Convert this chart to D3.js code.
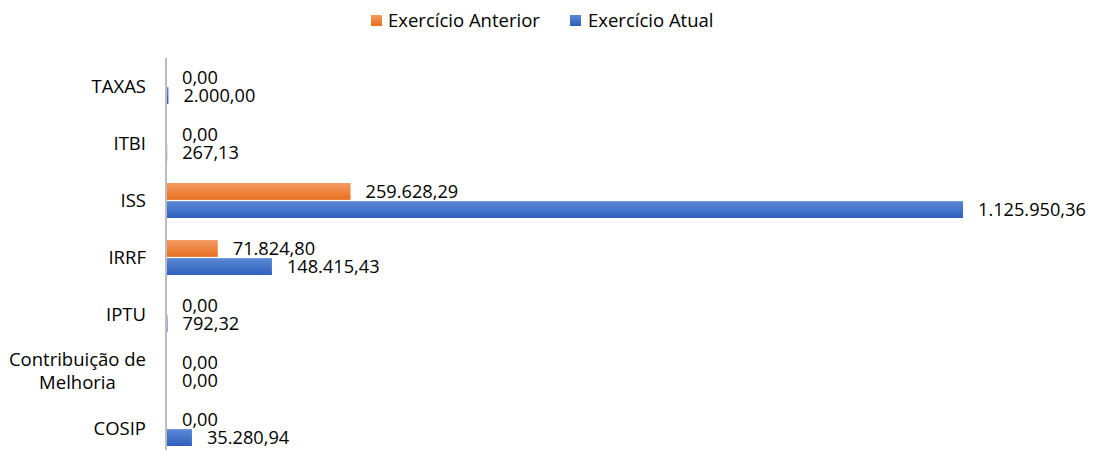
<!DOCTYPE html>
<html>
<head>
<meta charset="utf-8">
<script src="https://cdn.jsdelivr.net/npm/d3@7"></script>
<style>
  html, body { margin: 0; padding: 0; background: #fff; }
  svg { display: block; }
  text { font-family: "Open Sans", sans-serif; fill: #000; }
</style>
</head>
<body>
<svg id="chart" width="1094" height="450"></svg>
<script>
const categories = ["TAXAS", "ITBI", "ISS", "IRRF", "IPTU", "Contribuição de Melhoria", "COSIP"];
const categoryLines = [["TAXAS"], ["ITBI"], ["ISS"], ["IRRF"], ["IPTU"], ["Contribuição de", "Melhoria"], ["COSIP"]];
const seriesNames = ["Exercício Anterior", "Exercício Atual"];
const exercicioAnterior = [0, 0, 259628.29, 71824.80, 0, 0, 0];
const exercicioAtual = [2000.00, 267.13, 1125950.36, 148415.43, 792.32, 0, 35280.94];
const seriesColors = [["#F49D63", "#E86D1F"], ["#5B89D5", "#2F5FBE"]];

const svg = d3.select("#chart");
const locale = d3.formatLocale({decimal: ",", thousands: ".", grouping: [3], currency: ["R$ ", ""]});
const fmt = locale.format(",.2f");

const defs = svg.append("defs");
seriesColors.forEach((c, i) => {
  const g = defs.append("linearGradient").attr("id", "grad" + i)
    .attr("x1", 0).attr("y1", 0).attr("x2", 0).attr("y2", 1);
  g.append("stop").attr("offset", "0%").attr("stop-color", c[0]);
  g.append("stop").attr("offset", "100%").attr("stop-color", c[1]);
});

const x = d3.scaleLinear().domain([0, d3.max(exercicioAtual)]).range([167, 963]);
const y = d3.scaleBand().domain(categories).range([58, 457]).paddingInner(0.386).paddingOuter(0.193);
const ySub = d3.scaleBand().domain(seriesNames).range([0, y.bandwidth()]).paddingInner(0.07);

const data = categories.map((c, i) => ({cat: c, vals: [exercicioAnterior[i], exercicioAtual[i]]}));

const groups = svg.append("g").selectAll("g").data(data).join("g")
  .attr("transform", d => `translate(0,${y(d.cat)})`);

seriesNames.forEach((s, si) => {
  groups.append("rect")
    .attr("x", x(0))
    .attr("y", ySub(s))
    .attr("width", d => Math.max(0, x(d.vals[si]) - x(0)))
    .attr("height", ySub.bandwidth())
    .attr("fill", `url(#grad${si})`);
  groups.append("text")
    .attr("x", d => x(d.vals[si]) + 15)
    .attr("y", ySub(s) + ySub.bandwidth() / 2)
    .attr("dy", "0.35em")
    .attr("font-size", 18.2)
    .text(d => fmt(d.vals[si]));
});

// axis line
svg.append("line")
  .attr("x1", x(0) - 1).attr("x2", x(0) - 1)
  .attr("y1", 58).attr("y2", 457)
  .attr("stroke", "#a6a6a6").attr("stroke-width", 1.5);

// category labels (multi-line blocks right-aligned, lines centered within block)
const labelRight = 146;
categories.forEach((c, i) => {
  const lines = categoryLines[i];
  const cy = y(c) + y.bandwidth() / 2;
  const t = svg.append("text")
    .attr("font-size", 18.5)
    .attr("y", cy - (lines.length - 1) * 11.5);
  const spans = lines.map((l, li) =>
    t.append("tspan").attr("dy", li === 0 ? "0.35em" : 23).text(l));
  const widths = spans.map(sp => sp.node().getComputedTextLength());
  const maxW = d3.max(widths);
  t.attr("text-anchor", "middle");
  spans.forEach(sp => sp.attr("x", labelRight - maxW / 2));
});

// legend
const legendItems = [{name: seriesNames[0], sx: 371, tx: 388}, {name: seriesNames[1], sx: 570, tx: 588}];
legendItems.forEach((l, i) => {
  svg.append("rect").attr("x", l.sx).attr("y", 15).attr("width", 11).attr("height", 11)
    .attr("fill", `url(#grad${i})`);
  svg.append("text").attr("x", l.tx).attr("y", 20.5).attr("dy", "0.35em")
    .attr("font-size", 18.5).text(l.name);
});
</script>
</body>
</html>
